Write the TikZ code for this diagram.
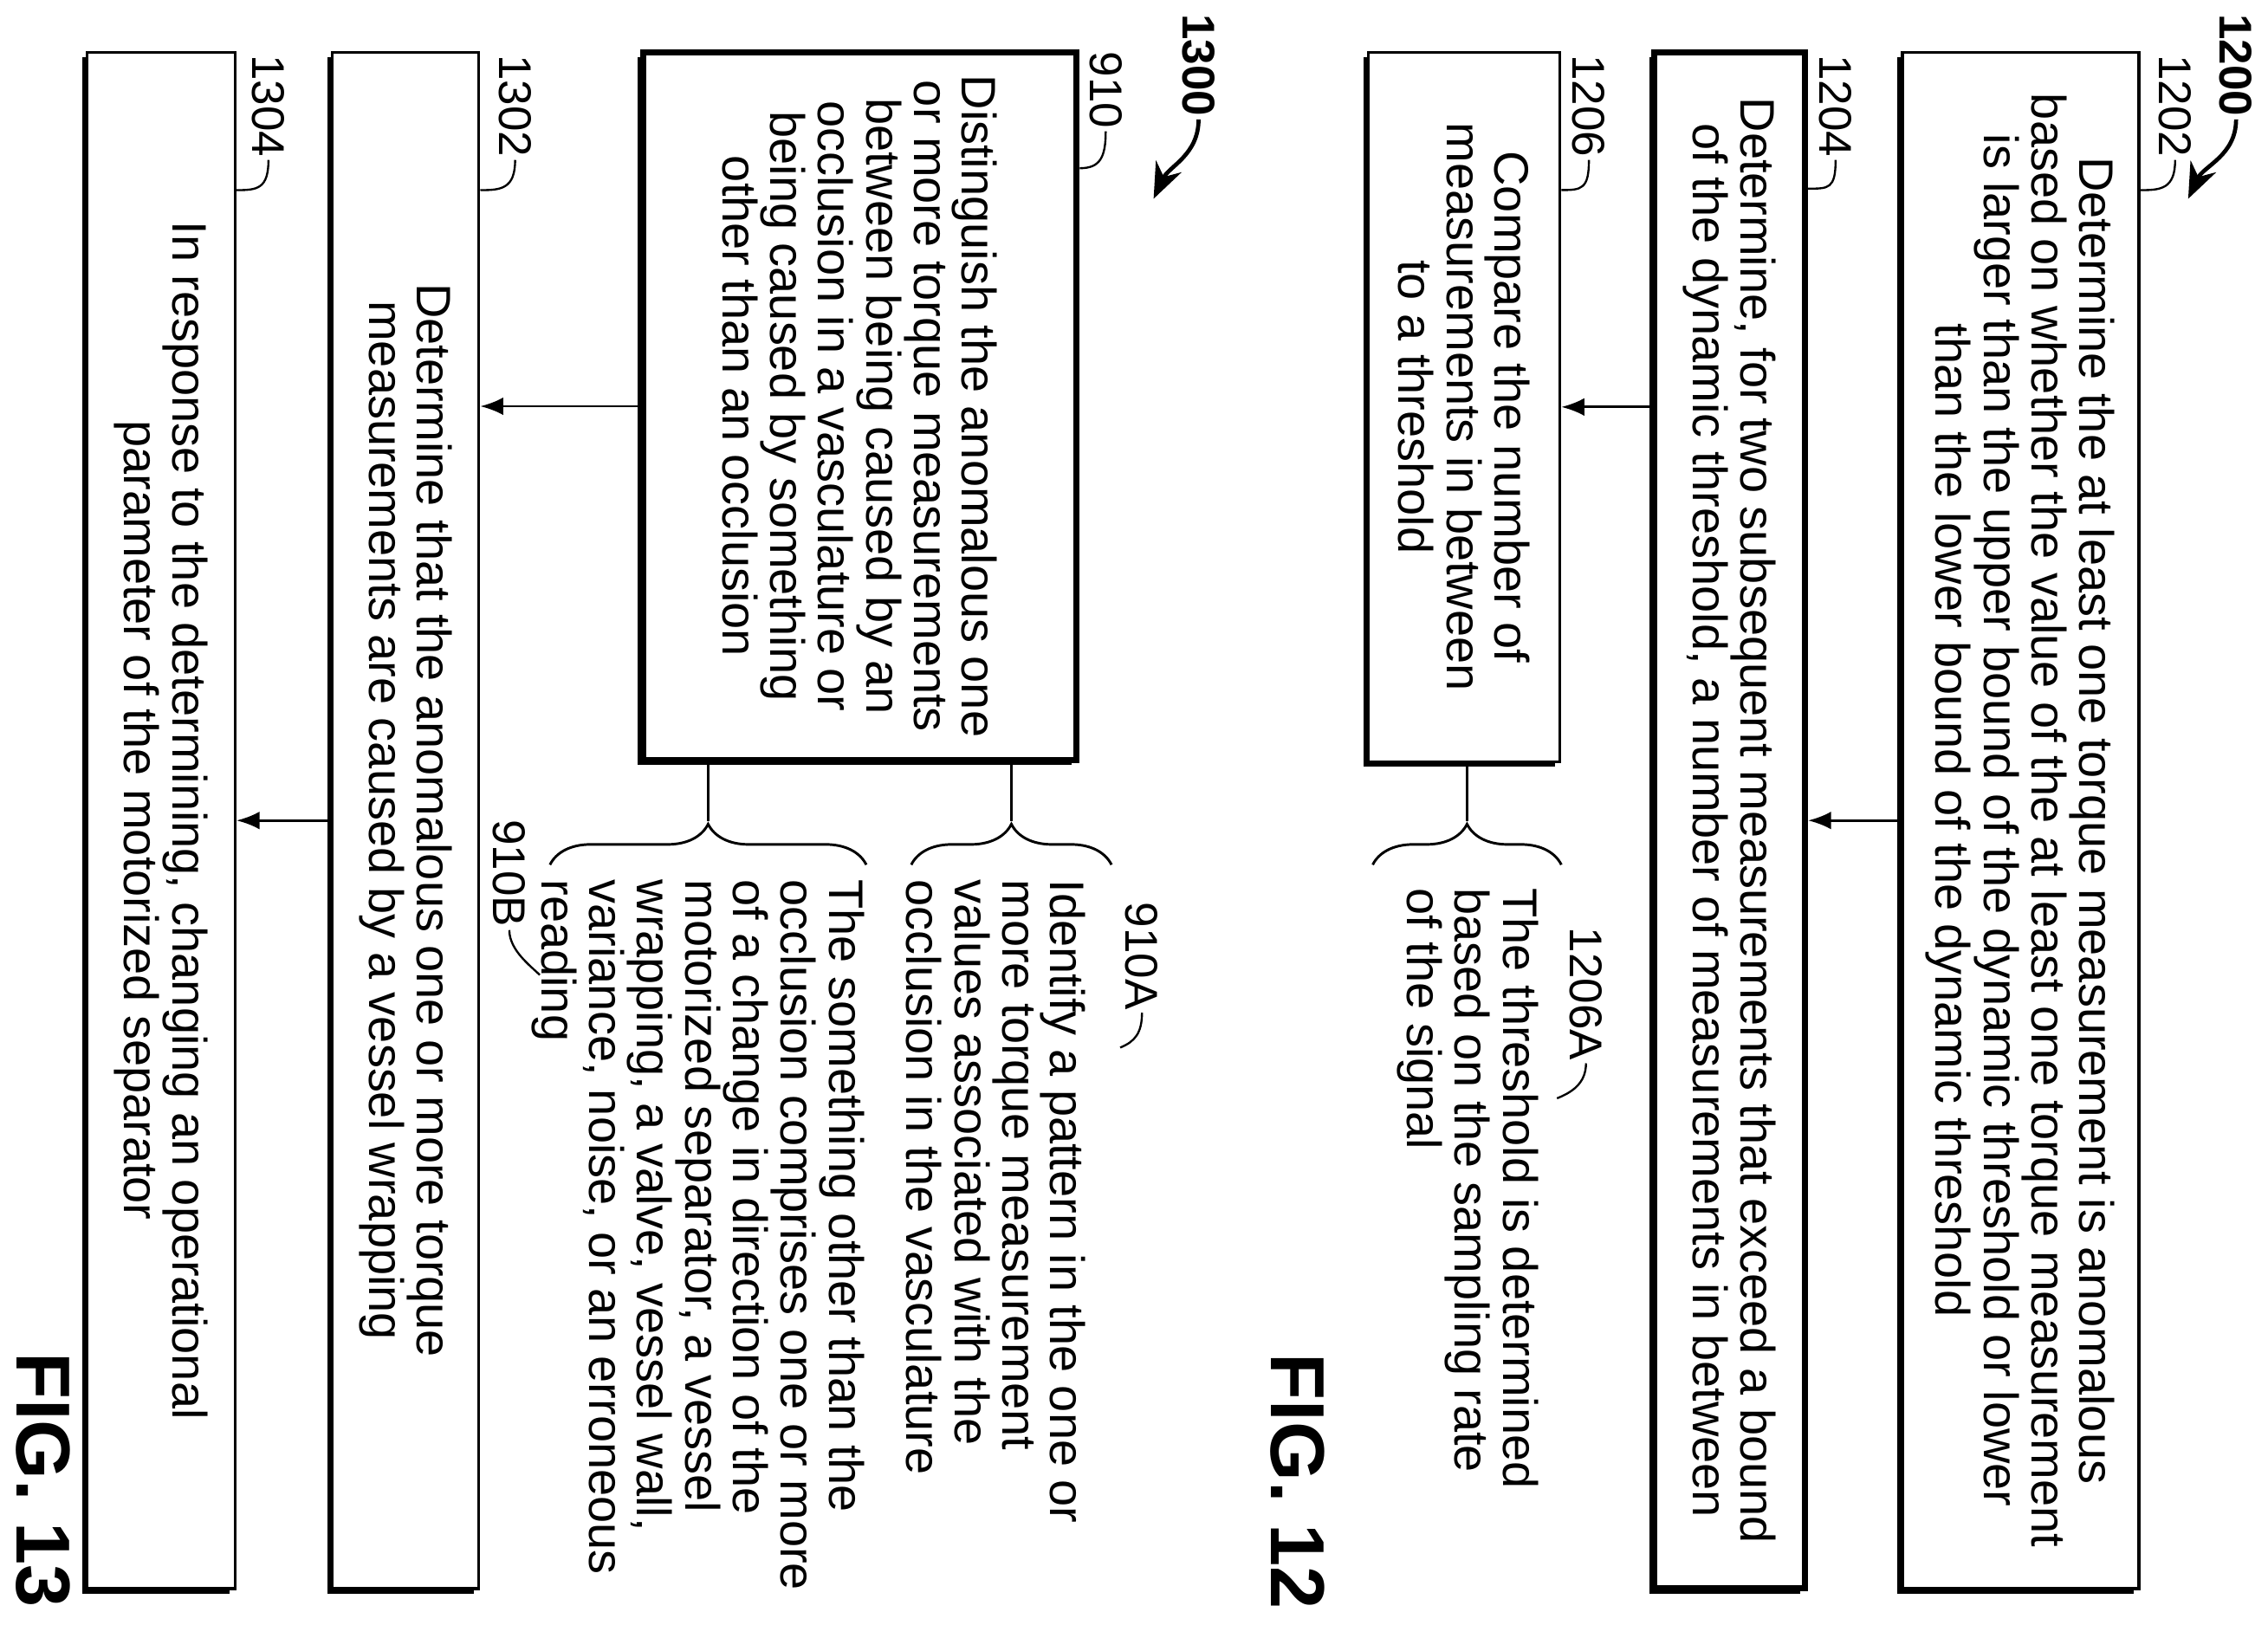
\documentclass[tikz,border=0pt]{standalone}
\usepackage{fontspec}
\setmainfont{Liberation Sans}
\usetikzlibrary{arrows.meta,calc,decorations.pathreplacing}
\begin{document}
\begin{tikzpicture}[x=0.02cm,y=-0.02cm,
  txt/.style={font=\fontsize{19}{18.8}\selectfont, rotate=-90, inner sep=0pt},
  box/.style={draw, fill=white, line width=1.2pt, rotate=-90, align=center, inner sep=0pt,
    font=\fontsize{19}{18.8}\selectfont,
    preaction={fill=black, transform canvas={shift={(-0.07cm,-0.07cm)}}}},
  thick box/.style={box, line width=2.4pt},
  lbl/.style={font=\fontsize{18}{18}\selectfont, rotate=-90, inner sep=1pt},
  fig/.style={font=\fontsize{30}{30}\selectfont\bfseries, rotate=-90, inner sep=0pt},
  arr/.style={-{Latex[length=9pt,width=7pt]}, line width=1pt},
  tick/.style={line width=0.8pt},
  br/.style={decorate, decoration={brace, amplitude=0.56cm}, line width=1pt}]
\useasboundingbox (0,0) rectangle (1563,1120);

% ---- FIG 12 ----
\node[box, minimum width=21.18cm, minimum height=3.26cm] (b1202) at (1392.5,565.5)
 {Determine the at least one torque measurement is anomalous\\based on whether the value of the at least one torque measurement\\is larger than the upper bound of the dynamic threshold or lower\\than the lower bound of the dynamic threshold};
\node[thick box, minimum width=21.18cm, minimum height=2.08cm] (b1204) at (1192,565.5)
 {Determine, for two subsequent measurements that exceed a bound\\of the dynamic threshold, a number of measurements in between};
\node[box, minimum width=9.78cm, minimum height=2.64cm] (b1206) at (1009,280.5)
 {Compare the number of\\measurements in between\\to a threshold};

\draw[arr] (b1202.south) -- (b1204.north);
\draw[arr] (b1206.north -| b1204.south) -- (b1206.north);

\node[txt, align=left, anchor=west] (t1206A) at (1011.5,612)
 {The threshold is determined\\based on the sampling rate\\of the signal};
\coordinate (k1206) at (1011,566);
\draw[line width=1pt] (k1206 |- b1206.east) -- (k1206);
\draw[br] (946,596) -- (1076,596);

\node[lbl, fill=white] (l1200) at (1541,45) {\bfseries 1200};
\coordinate (e1200) at (1508,137);
\draw[-{Stealth[length=14pt,width=11pt]}, line width=1.6pt] (l1200.east) to[out=-90,in=65] (e1200);

\node[lbl] (l1202) at (1499,73) {1202};
\draw[tick] (l1202.east) .. controls +(0,20) and +(14,0) .. ($(b1202.north west)+(0,96)$);
\node[lbl] (l1204) at (1265,73) {1204};
\draw[tick] (l1204.east) .. controls +(0,20) and +(14,0) .. ($(b1204.north west)+(0,96)$);
\node[lbl] (l1206) at (1095,73) {1206};
\draw[tick] (l1206.east) .. controls +(0,20) and +(14,0) .. ($(b1206.north west)+(0,96)$);
\node[lbl] (l1206A) at (1093,685) {1206A};
\coordinate (e1206A) at (1073,757);
\draw[tick] (l1206A.east) .. controls +(0,14) and +(10,-4) .. (e1206A);

\node[fig] (f12) at (894,1021) {FIG. 12};

% ---- FIG 13 ----
\node[thick box, minimum width=9.76cm, minimum height=5.98cm] (b910) at (592.5,280)
 {Distinguish the anomalous one\\or more torque measurements\\between being caused by an\\occlusion in a vasculature or\\being caused by something\\other than an occlusion};
\node[box, minimum width=21.18cm, minimum height=2.02cm] (b1302) at (279.5,565.5)
 {Determine that the anomalous one or more torque\\measurements are caused by a vessel wrapping};
\node[box, minimum width=21.18cm, minimum height=2.04cm] (b1304) at (111,565.5)
 {In response to the determining, changing an operational\\parameter of the motorized separator};

\draw[arr] (b910.south) -- (b1302.north |- b910.south);
\draw[arr] (b1302.south) -- (b1304.north);

\node[txt, align=left, anchor=west] (t910A) at (686.5,606)
 {Identify a pattern in the one or\\more torque measurement\\values associated with the\\occlusion in the vasculature};
\node[txt, align=left, anchor=west] (t910B) at (481,606)
 {The something other than the\\occlusion comprises one or more\\of a change in direction of the\\motorized separator, a vessel\\wrapping, a valve, vessel wall,\\variance, noise, or an erroneous\\reading};
\coordinate (k910A) at (697,566);
\coordinate (k910B) at (488,566);
\draw[line width=1pt] (k910A |- b910.east) -- (k910A);
\draw[line width=1pt] (k910B |- b910.east) -- (k910B);
\draw[br] (628,596) -- (766,596);
\draw[br] (379,596) -- (597,596);

\node[lbl, fill=white] (l1300) at (826,45) {\bfseries 1300};
\coordinate (e1300) at (795,137);
\draw[-{Stealth[length=14pt,width=11pt]}, line width=1.6pt] (l1300.east) to[out=-90,in=65] (e1300);

\node[lbl] (l910) at (762,62) {910};
\draw[tick] (l910.east) .. controls +(0,18) and +(14,0) .. ($(b910.north west)+(0,82)$);
\node[lbl] (l1302) at (355,73) {1302};
\draw[tick] (l1302.east) .. controls +(0,20) and +(14,0) .. ($(b1302.north west)+(0,96)$);
\node[lbl] (l1304) at (185,73) {1304};
\draw[tick] (l1304.east) .. controls +(0,20) and +(14,0) .. ($(b1304.north west)+(0,96)$);
\node[lbl] (l910A) at (787,659) {910A};
\coordinate (e910A) at (772,722);
\draw[tick] (l910A.east) .. controls +(0,14) and +(10,-4) .. (e910A);
\node[lbl] (l910B) at (351,602) {910B};
\coordinate (e910B) at (372,672);
\draw[tick] (l910B.east) .. controls +(0,14) and +(-6,-6) .. (e910B);

\node[fig] (f13) at (30,1020) {FIG. 13};
\end{tikzpicture}
\end{document}
